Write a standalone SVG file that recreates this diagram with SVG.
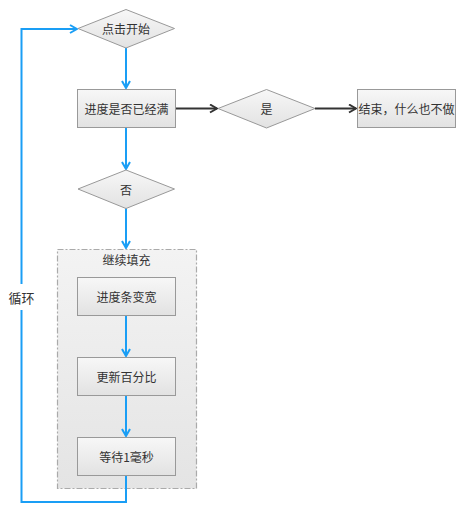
<svg xmlns="http://www.w3.org/2000/svg" width="474" height="513" viewBox="0 0 474 513">
<style>
text{font-family:"Noto Sans CJK SC","Liberation Sans",sans-serif;font-size:12px;fill:#333;text-anchor:middle;dominant-baseline:central}
.box{fill:url(#g);stroke:#999;stroke-width:1}
.blue{fill:none;stroke:#1a9ef5;stroke-width:2}
.black{fill:none;stroke:#333;stroke-width:2}
</style>
<defs>
<linearGradient id="g" x1="0" y1="0" x2="0" y2="1"><stop offset="0" stop-color="#f7f7f7"/><stop offset="1" stop-color="#e2e2e2"/></linearGradient>
<linearGradient id="cg" x1="0" y1="0" x2="0" y2="1"><stop offset="0" stop-color="#f3f3f3"/><stop offset="1" stop-color="#e4e4e4"/></linearGradient>
<marker id="ab" viewBox="0 0 10 10" refX="9" refY="5" markerWidth="10" markerHeight="10" markerUnits="userSpaceOnUse" orient="auto"><path d="M2,1 L9,5 L2,9" fill="none" stroke="#1a9ef5" stroke-width="2"/></marker>
<marker id="ak" viewBox="0 0 10 10" refX="9" refY="5" markerWidth="10" markerHeight="10" markerUnits="userSpaceOnUse" orient="auto"><path d="M2,1 L9,5 L2,9" fill="none" stroke="#333" stroke-width="2"/></marker>
</defs>
<rect width="474" height="513" fill="#fff"/>
<g id="group-fill">
<rect x="57.5" y="249.5" width="139" height="239" fill="url(#cg)" stroke="#aaa" stroke-width="1.2" stroke-dasharray="6,2,2,2"/>
<text x="126.5" y="259">继续填充</text>
</g>
<g id="connectors">
<path class="blue" d="M126,48 V88" marker-end="url(#ab)"/>
<path class="blue" d="M126,128 V169" marker-end="url(#ab)"/>
<path class="blue" d="M126,208 V248" marker-end="url(#ab)"/>
<path class="blue" d="M126,316 V356" marker-end="url(#ab)"/>
<path class="blue" d="M126,396 V436" marker-end="url(#ab)"/>
<path class="blue" d="M126,476 V502 H21.5 V29 H77" marker-end="url(#ab)"/>
<path class="black" d="M176,108.5 H217" marker-end="url(#ak)"/>
<path class="black" d="M315,108.5 H356" marker-end="url(#ak)"/>
<rect x="7" y="284" width="30" height="26" fill="#fff"/>
<text x="21.5" y="297" style="font-size:13px">循环</text>
</g>
<g id="start"><polygon class="box" points="126,9.5 174.5,28.5 126,48 78,28.5"/><text x="126" y="28.5">点击开始</text></g>
<g id="check"><rect class="box" x="77.5" y="89.5" width="98" height="38"/><text x="126.5" y="108.5">进度是否已经满</text></g>
<g id="yes"><polygon class="box" points="266.5,89.5 315,108.5 266.5,128 218,108.5"/><text x="266.5" y="108.5">是</text></g>
<g id="end"><rect class="box" x="357.5" y="89.5" width="98" height="38"/><text x="406.5" y="108.5">结束，什么也不做</text></g>
<g id="no"><polygon class="box" points="126,170 174.5,189 126,208.5 78,189"/><text x="126" y="189">否</text></g>
<g id="widen"><rect class="box" x="77.5" y="277.5" width="98" height="38"/><text x="126.5" y="296.5">进度条变宽</text></g>
<g id="update"><rect class="box" x="77.5" y="357.5" width="98" height="38"/><text x="126.5" y="376.5">更新百分比</text></g>
<g id="wait"><rect class="box" x="77.5" y="437.5" width="98" height="38"/><text x="126.5" y="456.5">等待1毫秒</text></g>
</svg>
